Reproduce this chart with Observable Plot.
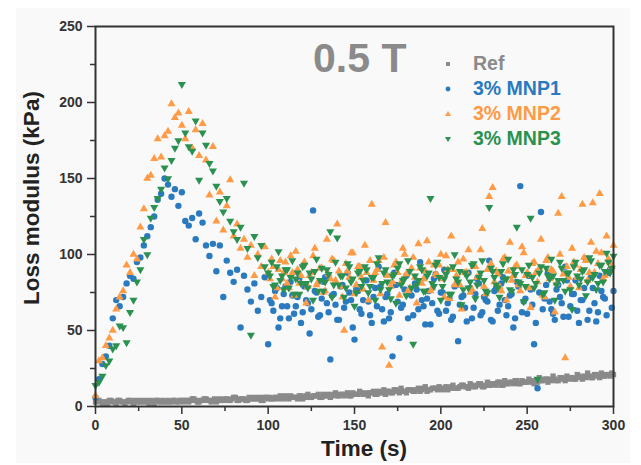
<!DOCTYPE html>
<html>
<head>
<meta charset="utf-8">
<script src="https://cdn.jsdelivr.net/npm/d3@7"></script>
<script src="https://cdn.jsdelivr.net/npm/@observablehq/plot@0.6"></script>
<style>
  html, body { margin: 0; padding: 0; background: #ffffff; }
  #wrap { position: relative; width: 641px; height: 465px; overflow: hidden; font-family: "Liberation Sans", Arial, sans-serif; }
  #panel { position: absolute; left: 16px; top: 8px; width: 614px; height: 455px; background: #f9f9f9; }
  #chart { position: absolute; left: 0; top: 0; }
  .lbl { position: absolute; font-weight: bold; white-space: nowrap; line-height: 1; }
  #field { left: 313px; top: 38px; font-size: 41px; color: #8a8a8a; }
  #ylab { left: 43px; top: 198px; font-size: 22.5px; color: #222; transform-origin: 0 0; transform: rotate(-90deg) translate(-50%, -100%); }
  #xlab { left: 364px; top: 438px; font-size: 22.5px; color: #222; transform: translateX(-50%); }
  .leg { position: absolute; left: 442px; display: flex; align-items: center; font-weight: bold; font-size: 19.5px; line-height: 1; white-space: nowrap; }
  .leg svg { width: 12px; height: 12px; margin-right: 19px; }
</style>
</head>
<body>
<div id="wrap">
  <div id="panel"></div>
  <div id="chart"></div>
  <div class="lbl" id="field">0.5 T</div>
  <div class="lbl" id="ylab">Loss modulus (kPa)</div>
  <div class="lbl" id="xlab">Time (s)</div>
  <div id="legend"></div>
</div>
<script>
// ---- data ----
const time = [0,2,4,6,8,10,12,14,16,18,20,22,24,26,28,30,32,34,36,38,40,42,44,46,48,50,
  52,54,56,58,60,62,64,66,68,70,72,74,76,78,80,82,84,86,88,90,92,94,96,98,100,
  102,104,106,108,110,112,114,116,118,120,122,124,126,128,130,132,134,136,138,140,142,144,146,148,150,
  152,154,156,158,160,162,164,166,168,170,172,174,176,178,180,182,184,186,188,190,192,194,196,198,200,
  202,204,206,208,210,212,214,216,218,220,222,224,226,228,230,232,234,236,238,240,242,244,246,248,250,
  252,254,256,258,260,262,264,266,268,270,272,274,276,278,280,282,284,286,288,290,292,294,296,298,300];

// odd sampling times for the reference (gray) series
const timeRefOdd = [1,3,5,7,9,11,13,15,17,19,21,23,25,27,29,31,33,35,37,39,41,43,45,47,49,
  51,53,55,57,59,61,63,65,67,69,71,73,75,77,79,81,83,85,87,89,91,93,95,97,99,
  101,103,105,107,109,111,113,115,117,119,121,123,125,127,129,131,133,135,137,139,141,143,145,147,149,
  151,153,155,157,159,161,163,165,167,169,171,173,175,177,179,181,183,185,187,189,191,193,195,197,199,
  201,203,205,207,209,211,213,215,217,219,221,223,225,227,229,231,233,235,237,239,241,243,245,247,249,
  251,253,255,257,259,261,263,265,267,269,271,273,275,277,279,281,283,285,287,289,291,293,295,297,299];

// extra sampling times in the dense plateau region
const timeOdd = [101,103,105,107,109,111,113,115,117,119,121,123,125,127,129,131,133,135,137,139,
  141,143,145,147,149,151,153,155,157,159,161,163,165,167,169,171,173,175,177,179,
  181,183,185,187,189,191,193,195,197,199,201,203,205,207,209,211,213,215,217,219,
  221,223,225,227,229,231,233,235,237,239,241,243,245,247,249,251,253,255,257,259,
  261,263,265,267,269,271,273,275,277,279,281,283,285,287,289,291,293,295,297,299];

const refValues = [3,4,2,3,4,3,2,4,3,3,4,2,3,4,3,3,4,2,4,3,3,4,3,4,3,4,
  4,3,5,4,3,4,5,4,4,3,5,4,5,4,6,4,5,5,4,5,6,5,4,6,5,
  5,6,5,6,7,5,6,6,7,5,7,6,7,7,6,8,7,6,8,7,8,7,9,7,8,
  8,9,8,7,9,8,10,9,8,10,9,11,9,10,9,11,10,11,10,12,10,11,12,11,12,
  12,11,13,12,12,14,13,12,14,13,15,13,14,14,15,14,16,14,15,16,15,17,15,16,16,
  17,15,16,17,18,16,17,18,17,19,17,18,19,18,20,18,19,20,19,21,19,20,21,20,21];

const refOddValues = [4,3,3,2,4,3,4,3,2,4,3,4,3,3,4,2,3,4,3,4,3,3,4,3,4,
  3,4,4,5,3,4,5,4,3,5,4,4,5,4,5,6,4,5,4,6,5,5,6,4,6,
  6,5,6,7,5,6,7,6,5,7,6,8,6,7,8,6,7,8,7,9,7,8,8,7,9,
  8,10,8,9,9,10,8,9,11,10,9,11,10,12,10,11,11,10,12,11,13,11,12,12,13,
  11,13,12,14,12,13,14,13,15,13,14,15,13,16,14,15,16,14,17,15,16,17,15,17,16,
  18,16,17,19,17,18,18,20,17,19,18,20,19,18,21,19,20,22,19,21,20,22,20,21,22];

const mnp1Values = [6,18,28,33,40,58,70,66,72,81,86,84,95,98,106,112,118,125,136,140,150,146,138,143,132,141,
  122,119,124,110,127,121,106,99,107,89,106,72,96,88,82,90,52,86,77,69,81,63,72,85,41,
  68,76,52,66,79,58,73,66,84,62,70,48,129,75,60,82,68,31,74,57,79,65,88,70,44,
  76,61,83,69,55,78,92,64,72,58,33,80,45,67,86,74,60,77,95,66,71,54,84,63,75,
  90,68,57,79,43,72,65,88,58,74,81,62,70,96,56,78,67,85,60,73,52,82,145,69,61,
  77,41,12,128,71,88,64,57,80,68,92,59,74,83,55,70,97,63,78,56,86,72,60,90,76];

const mnp2Values = [7,30,32,40,45,50,64,72,76,93,88,100,97,118,130,150,152,163,176,164,178,181,199,190,193,185,
  176,194,170,182,165,186,162,139,171,122,141,116,132,149,112,120,104,110,98,106,86,100,92,105,88,
  97,72,90,84,95,78,88,102,81,93,68,86,99,80,91,75,110,84,96,120,79,50,89,101,74,
  92,85,106,70,133,88,96,39,121,27,82,95,73,104,87,78,98,68,91,84,109,76,93,86,100,
  72,90,112,80,95,64,88,103,77,92,85,117,74,138,144,89,79,97,70,108,86,93,76,101,88,
  65,95,82,110,72,98,90,62,127,138,32,85,104,93,78,133,96,88,134,102,140,84,112,95,106];

const mnp3Values = [14,16,20,27,30,38,40,53,52,42,62,70,82,90,110,100,124,131,137,143,157,150,162,170,175,212,
  180,171,168,188,149,180,172,160,155,145,135,128,137,122,115,110,118,147,104,47,112,98,106,92,88,
  95,80,102,86,90,78,96,84,74,92,81,88,70,97,83,76,90,115,80,111,86,72,94,82,66,
  88,79,92,75,85,70,98,81,90,77,86,68,94,83,73,89,41,80,92,76,86,137,79,95,70,
  84,90,74,100,82,67,88,78,93,71,85,96,76,131,89,80,72,94,84,77,90,118,81,69,87,
  124,78,18,92,75,86,97,70,83,91,76,88,64,95,80,89,73,98,85,77,93,82,101,88,99];

const mnp1OddValues = [70,63,78,58,74,66,82,61,72,55,79,68,64,76,59,71,85,62,73,67,
  57,80,69,75,52,77,64,70,83,60,72,66,79,56,74,62,88,69,65,77,
  58,73,81,64,70,54,76,68,87,61,75,63,71,59,80,67,73,56,78,65,
  84,60,72,69,57,76,63,81,70,66,74,58,79,62,71,86,67,55,75,64,
  80,69,61,77,72,59,83,66,74,63,70,78,57,85,68,62,76,71,88,65];

const mnp2OddValues = [84,92,78,96,88,81,99,73,90,86,95,79,88,104,82,91,76,87,97,83,
  89,72,94,85,101,80,92,77,88,96,83,90,74,98,86,79,93,88,82,100,
  76,91,85,107,81,89,95,78,87,93,84,99,71,90,86,80,97,88,75,92,
  85,103,79,90,94,82,87,76,98,89,83,92,80,105,86,78,94,88,91,73,
  96,84,89,81,100,87,92,79,95,85,90,98,83,108,88,94,101,86,97,92];

const mnp3OddValues = [86,79,92,83,77,90,85,74,88,81,93,78,84,89,76,91,82,87,72,95,
  80,86,78,92,84,75,89,83,90,79,85,94,77,88,82,71,87,91,80,84,
  96,78,86,83,90,76,88,81,93,85,79,87,74,92,84,89,77,86,82,94,
  80,88,83,75,91,85,78,89,84,97,76,87,82,90,79,93,85,81,88,74,
  91,84,86,80,95,83,88,77,92,86,84,90,82,96,87,81,93,89,95,91];

const xTicks = [0, 50, 100, 150, 200, 250, 300];
const xMinorTicks = [25, 75, 125, 175, 225, 275];
const yTicks = [0, 50, 100, 150, 200, 250];
const yMinorTicks = [25, 75, 125, 175, 225];

const seriesNames = ["Ref", "3% MNP1", "3% MNP2", "3% MNP3"];
const seriesColors = ["#8a8a8a", "#2a7ac0", "#ff9a45", "#2b9150"];

// ---- build tables ----
const toRows = (times, vals) => times.map((t, i) => ({t, v: vals[i]}));
const refRows = toRows(time, refValues).concat(toRows(timeRefOdd, refOddValues));
const m1Rows = toRows(time, mnp1Values).concat(toRows(timeOdd, mnp1OddValues));
const m2Rows = toRows(time, mnp2Values).concat(toRows(timeOdd, mnp2OddValues));
const m3Rows = toRows(time, mnp3Values).concat(toRows(timeOdd, mnp3OddValues));

const sqrt3 = Math.sqrt(3);
const triangleDown = {
  draw(context, size) {
    const y = -Math.sqrt(size / (sqrt3 * 3));
    context.moveTo(0, -y * 2);
    context.lineTo(-sqrt3 * y, y);
    context.lineTo(sqrt3 * y, y);
    context.closePath();
  }
};

const axisColor = "#333";
const chart = Plot.plot({
  width: 641,
  height: 465,
  marginLeft: 95,
  marginRight: 28,
  marginTop: 26,
  marginBottom: 59,
  style: { background: "transparent", fontFamily: "'Liberation Sans', Arial, sans-serif" },
  x: { domain: [0, 300] },
  y: { domain: [0, 250] },
  marks: [
    Plot.dot(refRows, { x: "t", y: "v", symbol: "square", r: 3, fill: seriesColors[0], stroke: "none" }),
    Plot.dot(m1Rows, { x: "t", y: "v", symbol: "circle", r: 3.2, fill: seriesColors[1], stroke: "none" }),
    Plot.dot(m2Rows, { x: "t", y: "v", symbol: "triangle", r: 3, fill: seriesColors[2], stroke: "none" }),
    Plot.dot(m3Rows, { x: "t", y: "v", symbol: triangleDown, r: 3, fill: seriesColors[3], stroke: "none" }),
    Plot.axisX(xTicks, { tickSize: 8, tickPadding: 6, fontSize: 14, fontWeight: "bold", color: axisColor, strokeWidth: 1.5, label: null }),
    Plot.axisX(xMinorTicks, { tickSize: 5, tickFormat: () => "", color: axisColor, strokeWidth: 1.5, label: null }),
    Plot.axisY(yTicks, { tickSize: 8, tickPadding: 5, fontSize: 14, fontWeight: "bold", color: axisColor, strokeWidth: 1.5, label: null }),
    Plot.axisY(yMinorTicks, { tickSize: 5, tickFormat: () => "", color: axisColor, strokeWidth: 1.5, label: null }),
    Plot.frame({ stroke: axisColor, strokeWidth: 2 })
  ]
});
document.getElementById("chart").appendChild(chart);

// ---- legend ----
const legendShapes = [
  '<rect x="4" y="4" width="4" height="4"/>',
  '<circle cx="6" cy="6" r="2.4"/>',
  '<path d="M6,3 L9,8 L3,8 Z"/>',
  '<path d="M6,9 L9,4 L3,4 Z"/>'
];
const legend = document.getElementById("legend");
seriesNames.forEach((name, i) => {
  const row = document.createElement("div");
  row.className = "leg";
  row.style.top = (54 + i * 25) + "px";
  row.style.color = seriesColors[i];
  row.innerHTML = `<svg viewBox="0 0 12 12" fill="${seriesColors[i]}">${legendShapes[i]}</svg><span>${name}</span>`;
  legend.appendChild(row);
});
</script>
</body>
</html>
